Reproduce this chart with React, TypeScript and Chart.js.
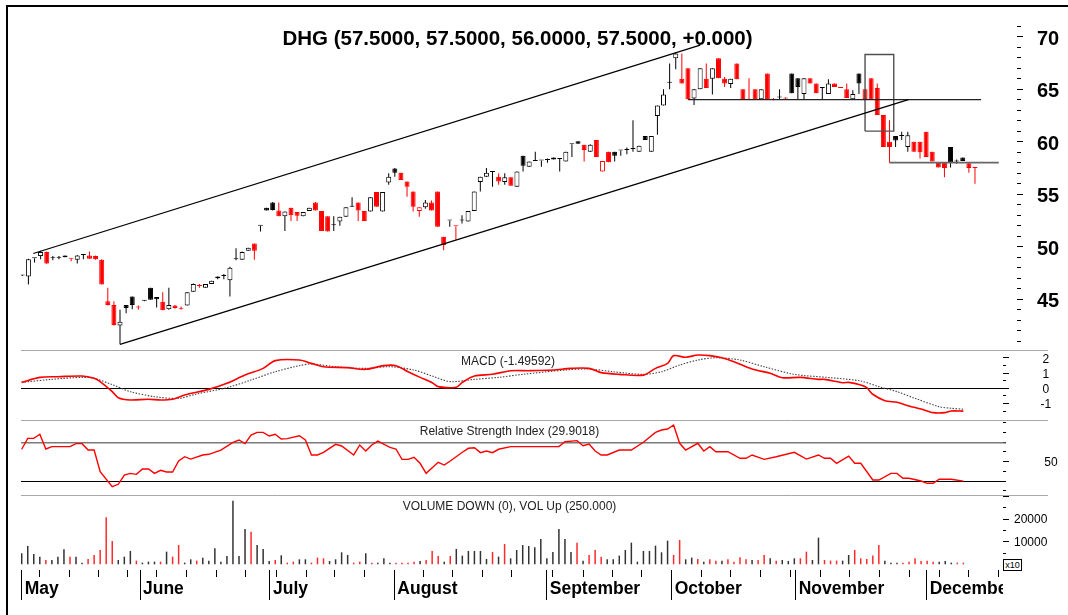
import React, { useEffect, useRef } from 'react';
import { Chart, registerables } from 'chart.js';

Chart.register(...registerables);

const FONT = "Arial, 'Liberation Sans', sans-serif";

// ---- Daily candles (trading-day index 0..156) ----
const OPEN = [47.25,47.15,48.9,49.1,49.5,48.9,48.95,49.15,48.85,48.75,49.2,49.15,49.1,48.75,44.8,44.45,42.5,44.45,45.25,44.2,44.85,46.1,45.2,44.75,44.05,44.4,44.15,44.4,45.7,46.25,46.1,46.45,47.15,47.2,46.8,48.8,48.75,49.6,50.3,52.0,53.7,54.2,53.45,52.9,53.7,53.3,52.9,53.4,54.2,53.4,52.9,52.05,52.4,52.85,53.8,54.2,53.4,53.35,55.2,53.35,56.1,57.45,57.05,56.2,55.25,53.4,53.75,54.2,55.25,50.95,52.5,51.95,52.5,52.4,53.4,56.15,56.65,57.1,56.65,56.15,56.6,55.7,58.65,57.6,58.15,58.2,58.25,58.5,58.35,58.1,59.75,60.05,59.7,59.05,60.15,57.15,59.05,59.05,59.15,59.2,59.3,59.05,60.55,59.05,62.45,63.45,65.6,67.95,66.0,67.0,64.1,65.0,66.0,66.0,67.95,66.0,65.5,67.45,65.0,64.0,65.0,64.05,66.5,64.0,64.2,64.1,66.5,66.05,64.55,66.05,65.55,65.1,64.55,65.55,65.1,65.0,64.05,66.5,65.0,66.05,65.1,62.55,60.0,60.55,60.55,59.5,60.0,60.0,60.95,59.05,58.0,58.0,59.5,58.1,58.5,57.95,57.5];
const HIGH = [47.3,48.85,48.9,49.6,49.55,49.1,49.1,49.15,48.9,49.2,49.2,49.55,49.15,48.8,46.1,44.8,44.0,44.45,45.25,44.4,44.9,46.1,45.2,45.65,46.1,44.45,44.3,45.65,46.5,46.45,46.45,46.75,47.15,47.4,48.1,49.85,49.55,49.9,50.3,52.0,53.7,54.25,54.2,53.35,53.7,53.3,53.3,53.7,54.25,53.4,52.9,52.9,52.85,53.75,54.7,54.2,53.4,54.7,55.2,55.2,57.0,57.5,57.05,56.2,55.25,53.75,54.45,54.4,55.25,50.95,52.5,51.95,53.0,53.4,55.25,56.65,57.5,57.1,57.0,57.0,56.6,57.15,58.65,58.1,59.05,58.2,58.4,58.5,58.35,59.05,59.75,60.05,59.7,59.75,60.15,58.15,59.05,59.05,59.15,59.45,62.05,59.6,60.55,60.55,63.45,65.0,67.45,68.5,68.4,67.0,65.0,67.0,67.45,67.0,67.95,66.15,66.0,67.45,65.0,66.05,65.0,65.0,66.5,64.15,65.0,64.2,66.5,66.05,66.05,66.05,65.55,65.1,65.95,65.55,65.1,65.55,64.9,66.5,65.0,66.05,65.55,62.55,62.05,60.55,60.95,60.95,60.0,60.0,60.95,59.05,58.0,58.0,59.5,58.3,58.5,57.95,57.5];
const LOW = [47.2,46.4,48.5,48.8,48.35,48.7,48.8,49.0,48.6,48.4,48.8,48.85,48.75,46.4,44.4,42.5,40.7,43.65,44.05,44.0,44.8,44.95,44.2,43.95,44.0,44.1,44.0,44.4,45.7,46.1,46.1,46.45,46.9,46.9,45.25,48.7,48.75,49.6,48.75,51.45,53.45,53.45,52.9,51.5,52.45,52.45,52.9,53.4,53.45,51.5,51.45,51.5,52.0,52.85,53.8,52.45,52.45,53.35,53.8,53.35,55.9,56.65,56.35,54.75,53.35,52.85,53.6,53.45,51.9,49.65,51.9,50.65,52.2,52.4,53.4,55.25,56.65,55.7,55.9,55.9,55.8,55.7,57.15,57.6,58.15,57.6,58.0,58.3,57.15,58.1,58.55,59.8,58.1,59.05,58.55,57.15,58.05,58.1,58.65,58.8,59.05,59.05,60.15,59.05,60.65,63.45,65.0,66.9,65.55,64.05,63.5,65.0,65.1,64.5,66.05,65.2,65.1,65.95,64.05,64.0,64.0,64.05,64.05,63.95,64.0,64.0,64.6,64.05,64.05,65.55,64.6,64.05,64.55,65.2,65.1,64.15,64.05,64.55,64.05,64.0,62.55,59.5,58.0,59.5,60.15,59.05,59.05,58.4,58.55,58.1,57.55,56.6,57.55,57.9,58.15,57.05,56.0];
const CLOSE = [47.25,48.8,48.9,49.5,48.4,48.9,48.95,49.0,48.85,49.15,49.2,48.85,48.8,46.4,44.45,42.55,42.85,44.15,44.45,44.2,44.85,44.95,45.0,43.95,44.45,44.15,44.1,45.65,46.45,46.25,46.45,46.75,47.0,47.2,48.0,48.8,49.5,49.9,49.6,52.0,53.45,53.5,52.9,53.35,53.0,52.95,53.3,53.7,53.45,51.5,51.45,52.05,52.85,53.75,53.8,53.45,52.45,54.7,53.8,55.2,56.65,57.05,56.35,55.7,53.8,53.75,54.2,53.45,51.9,50.15,52.5,51.95,52.5,53.4,55.25,56.65,57.05,57.1,56.2,56.6,55.8,57.15,57.7,58.1,58.15,58.2,58.25,58.3,58.35,59.05,59.75,59.8,59.2,59.7,58.55,58.15,58.05,58.65,59.15,59.2,59.3,59.6,60.15,60.55,63.45,64.5,65.6,68.4,65.55,64.05,65.0,67.0,65.1,67.0,66.05,65.55,66.0,65.95,64.05,64.0,64.0,65.0,64.05,64.0,64.2,64.1,64.6,65.2,66.05,65.55,64.6,65.1,65.55,65.2,65.1,64.15,64.55,65.55,64.05,64.0,62.55,59.5,59.5,60.1,60.55,60.6,59.05,59.0,58.55,58.1,57.55,57.5,58.0,58.1,58.15,57.5,57.5];
const VOLUME = [4870,8110,4570,3390,1920,1920,3390,6640,3390,3390,740,2360,4130,6340,20800,10330,1920,3390,5900,1620,740,1180,1180,1180,5600,3390,8550,740,2210,1620,2950,1620,7080,1180,3690,28170,3690,15600,14450,8550,6790,1475,1920,3980,740,1180,2210,2210,740,2950,2650,1475,2210,5310,4130,740,1180,4870,740,740,2650,740,740,740,740,1180,1475,1920,5900,3690,1180,3690,6790,3840,5900,5900,5900,2360,5460,3390,9000,2650,6340,8550,8110,7520,11210,2650,5460,15640,11210,5460,9590,1620,4130,6340,3390,2210,2210,3840,6340,9590,1180,5900,5900,8260,5310,10470,4130,10770,2210,2950,2360,1180,2210,1620,1620,2210,1180,3100,2210,1920,1920,4130,2650,1620,1920,1475,2650,2650,5600,1920,11800,1920,1620,1620,1620,4130,6340,2650,2360,3840,8550,1620,740,740,740,1180,2650,1475,1620,1180,1180,1475,740,740,740];

// ---- Indicators (read at these trading days) ----
const MACD_DAYS = [0,3,6,10,12,13,15,16,18,21,23,25,27,31,34,37,40,42,46,48,50,54,57,60,62,64,66,68,69,72,73,75,78,81,84,88,91,94,96,99,103,105,107,108,110,112,114,116,118,121,124,126,129,132,133,136,137,139,140,141,143,145,147,149,151,153,154,156];
const MACD_VALUES = [0.39,0.72,0.76,0.81,0.66,0.44,-0.22,-0.62,-0.77,-0.72,-0.77,-0.72,-0.44,-0.07,0.33,0.87,1.31,1.82,1.86,1.64,1.42,1.36,1.25,1.49,1.49,1.09,0.72,0.37,0.11,0.07,0.39,0.81,0.92,1.16,1.16,1.2,1.31,1.31,1.03,0.92,0.87,1.31,1.64,2.15,2.04,2.19,2.15,2.01,1.75,1.27,0.99,0.70,0.72,0.59,0.59,0.37,0.39,0.22,0.04,-0.39,-0.81,-0.92,-1.16,-1.36,-1.6,-1.6,-1.49,-1.5];
const SIGNAL_DAYS = [0,5,10,12,15,18,22,26,29,34,38,42,46,48,52,57,61,65,68,71,75,79,83,90,94,98,103,106,109,112,115,119,123,128,134,139,142,145,148,152,154,156];
const SIGNAL_VALUES = [0.39,0.59,0.72,0.66,0.24,-0.22,-0.55,-0.66,-0.37,0.04,0.55,1.09,1.49,1.60,1.42,1.31,1.42,1.2,0.81,0.44,0.59,0.72,0.92,1.2,1.27,1.09,0.92,1.09,1.53,1.86,2.01,1.86,1.42,0.92,0.70,0.48,0.11,-0.22,-0.66,-1.21,-1.31,-1.38];
const RSI_DAYS = [0,1,2,3,4,5,8,9,10,11,12,13,15,16,17,18,19,20,21,22,23,24,25,26,27,28,30,31,33,35,36,37,38,39,40,41,42,43,44,46,47,48,49,50,52,53,55,56,57,58,59,61,62,63,64,65,66,67,69,70,71,73,74,75,76,77,78,79,81,84,89,90,92,93,94,95,96,97,99,101,103,105,106,107,108,109,110,112,113,114,115,117,119,120,121,123,125,128,130,132,133,134,135,137,138,139,141,142,144,145,146,147,149,150,151,152,154,156];
const RSI_VALUES = [62.8,74.1,74.1,78.3,63.1,65.5,65.5,68.6,68.6,62.0,62.0,39.6,24.1,26.6,36.2,37.9,36.9,42.4,42.4,37.9,41.1,39.3,39.3,50.7,55.1,52.7,56.9,57.6,62.0,70.0,72.4,68.6,77.5,80.3,80.3,76.5,78.3,73.4,73.8,76.8,72.4,56.9,56.9,59.7,67.9,66.2,56.9,67.2,61.0,67.2,71.3,64.8,63.1,52.4,52.4,54.5,48.3,37.9,49.3,46.5,50.7,59.7,63.8,64.4,59.3,61.0,59.3,62.8,65.5,65.5,65.5,70.6,71.7,66.5,68.2,61.0,56.9,56.9,62.0,62.0,70.0,80.3,82.7,83.7,87.9,69.0,62.0,69.0,61.0,65.5,60.3,60.3,53.5,53.5,56.9,52.4,55.1,59.7,52.7,56.9,53.5,53.5,48.3,55.8,48.3,48.3,31.0,31.0,37.9,37.9,32.8,32.8,30.0,27.6,27.6,31.8,31.8,29.9];
const MACD_LAST = '-1.49592';
const RSI_LAST = '29.9018';

// ---- Drawn studies (day, price) ----
const CHANNEL_UPPER_DAYS = [1.8, 111.0];
const CHANNEL_UPPER_PRICES = [49.35, 69.2];
const CHANNEL_LOWER_DAYS = [16, 145.1];
const CHANNEL_LOWER_PRICES = [40.7, 64.0];
const RESIST_DAYS = [109.0, 157.0];
const RESIST_PRICE = 64.0;
const SUPPORT_DAYS = [142.0, 159.9];
const SUPPORT_PRICE = 58.0;
const BOX_DAYS = [138.0, 142.7];
const BOX_PRICES = [61.0, 68.3];

// ---- Axis ticks ----
const MONTH_LABELS = ['May','June','July','August','September','October','November','December'];
const MONTH_TICKS = [0, 19.6, 41.13, 61.73, 86.98, 107.69, 128.23, 149.93];
const WEEK_TICKS = [3.03,7.84,12.69,17.56,22.37,27.34,32.31,37.11,42.25,47.1,51.9,56.76,66.53,71.41,76.31,81.18,87.97,93.04,97.85,102.72,112.54,117.46,122.32,127.4,132.37,137.22,142.08,147.05,152.02,156.83,161.8];
const PRICE_TICKS = [41,42,43,44,45,46,47,48,49,50,51,52,53,54,55,56,57,58,59,60,61,62,63,64,65,66,67,68,69,70,71];
const MACD_TICKS = [-1.5,-1,-0.5,0,0.5,1,1.5,2,2.5];
const RSI_TICKS = [20,30,40,50,60,70,80,90];
const VOL_TICKS = [5000,10000,15000,20000,25000,30000];

const last = CLOSE.length - 1;
const chg = CLOSE[last] - CLOSE[last - 1];
const TITLE = `DHG (${OPEN[last].toFixed(4)}, ${HIGH[last].toFixed(4)}, ${LOW[last].toFixed(4)}, ${CLOSE[last].toFixed(4)}, ${chg >= 0 ? '+' : ''}${chg.toFixed(3)})`;

const noScalePadding = (s: any) => {
  s.paddingTop = 0;
  s.paddingBottom = 0;
  s.paddingLeft = 0;
  s.paddingRight = 0;
};

function buildConfig(): any {
  const days = CLOSE.map((_, i) => i);
  const up = days.map((i) => i === 0 || CLOSE[i] > CLOSE[i - 1]);
  const color = up.map((u) => (u ? '#000000' : '#ff0000'));
  const fill = days.map((i) => (CLOSE[i] > OPEN[i] ? '#ffffff' : color[i]));
  const volColor = up.map((u) => (u ? '#333333' : '#ff2a2a'));

  const line = (xs: number[], ys: number[], c: string, w: number) => ({
    type: 'line',
    xAxisID: 'xp',
    yAxisID: 'yp',
    data: xs.map((x, i) => ({ x, y: ys[i] })),
    borderColor: c,
    borderWidth: w,
    pointRadius: 0,
    fill: false,
    tension: 0,
    order: 0,
  });

  const datasets: any[] = [
    line(CHANNEL_UPPER_DAYS, CHANNEL_UPPER_PRICES, '#000', 1.3),
    line(CHANNEL_LOWER_DAYS, CHANNEL_LOWER_PRICES, '#000', 1.3),
    line(RESIST_DAYS, RESIST_DAYS.map(() => RESIST_PRICE), '#222', 1.3),
    line(SUPPORT_DAYS, SUPPORT_DAYS.map(() => SUPPORT_PRICE), '#666', 1.7),
    line(
      [BOX_DAYS[0], BOX_DAYS[1], BOX_DAYS[1], BOX_DAYS[0], BOX_DAYS[0]],
      [BOX_PRICES[0], BOX_PRICES[0], BOX_PRICES[1], BOX_PRICES[1], BOX_PRICES[0]],
      '#505050', 1.4
    ),
    {
      type: 'bar',
      xAxisID: 'xp',
      yAxisID: 'yp',
      data: days.map((i) => ({ x: i, y: [OPEN[i], CLOSE[i]] })),
      backgroundColor: fill,
      borderColor: color,
      borderWidth: 1,
      borderSkipped: false,
      barThickness: 5,
      minBarLength: 1,
      grouped: false,
      inflateAmount: 0,
      order: 1,
    },
    {
      type: 'bar',
      xAxisID: 'xp',
      yAxisID: 'yp',
      data: days.map((i) => ({ x: i, y: [LOW[i], HIGH[i]] })),
      backgroundColor: color,
      borderWidth: 0,
      barThickness: 1,
      minBarLength: 1,
      grouped: false,
      inflateAmount: 0,
      order: 2,
    },
    {
      type: 'line',
      xAxisID: 'xl',
      yAxisID: 'ym',
      data: MACD_DAYS.map((d, i) => ({ x: d, y: MACD_VALUES[i] })),
      borderColor: '#ff0000',
      borderWidth: 1.6,
      pointRadius: 0,
      tension: 0.3,
      fill: false,
      order: 3,
    },
    {
      type: 'line',
      xAxisID: 'xl',
      yAxisID: 'ym',
      data: SIGNAL_DAYS.map((d, i) => ({ x: d, y: SIGNAL_VALUES[i] })),
      borderColor: '#444444',
      borderWidth: 1.1,
      borderDash: [1.5, 1.5],
      pointRadius: 0,
      tension: 0.3,
      fill: false,
      order: 4,
    },
    {
      type: 'line',
      xAxisID: 'xl',
      yAxisID: 'yr',
      data: RSI_DAYS.map((d, i) => ({ x: d, y: RSI_VALUES[i] })),
      borderColor: '#ff0000',
      borderWidth: 1.4,
      pointRadius: 0,
      tension: 0,
      fill: false,
      order: 3,
    },
    {
      type: 'bar',
      xAxisID: 'xl',
      yAxisID: 'yv',
      data: days.map((i) => ({ x: i, y: VOLUME[i] })),
      backgroundColor: volColor,
      borderWidth: 0,
      barThickness: 1.5,
      grouped: false,
      inflateAmount: 0,
      order: 3,
    },
  ];

  const smallFont = { family: FONT, size: 12 };
  const yCommon = (weight: number, min: number, max: number) => ({
    type: 'linear',
    position: 'right',
    stack: 'panels',
    stackWeight: weight,
    min,
    max,
    beginAtZero: false,
    border: { display: false },
    afterFit: (s: any) => {
      s.width = 65;
      noScalePadding(s);
    },
  });

  const panelPlugin = {
    id: 'panelDecor',
    afterDraw(chart: any) {
      const { ctx, chartArea, scales } = chart;
      ctx.save();
      ctx.strokeStyle = '#a8a8a8';
      ctx.lineWidth = 1;
      ['ym', 'yr', 'yv'].forEach((id) => {
        const y = Math.round(scales[id].top) + 0.5;
        ctx.beginPath();
        ctx.moveTo(chartArea.left, y);
        ctx.lineTo(chartArea.right + 45, y);
        ctx.stroke();
      });
      const xl = scales.xl;
      ctx.fillStyle = '#ffffff';
      ctx.fillRect(chartArea.right, xl.top + 7, 60, xl.bottom - xl.top);
      ctx.restore();
    },
  };

  return {
    type: 'bar',
    data: { datasets },
    plugins: [panelPlugin],
    options: {
      responsive: false,
      animation: false,
      events: [],
      layout: { autoPadding: false, padding: { left: 21, top: 6, right: 0, bottom: 0 } },
      plugins: { legend: { display: false }, tooltip: { enabled: false }, title: { display: false } },
      scales: {
        xp: {
          type: 'linear', display: false, min: -0.213, max: 160.59, offset: false,
          grid: { offset: false },
          afterFit: noScalePadding,
        },
        xl: {
          type: 'linear', position: 'bottom', min: -0.116, max: 162.57, offset: false,
          border: { display: false },
          grid: {
            display: true, offset: false, drawOnChartArea: false, drawTicks: true,
            tickLength: 30, tickColor: '#000', tickWidth: 1,
            tickBorderDash: (ctx: any) => (ctx.tick && MONTH_TICKS.includes(ctx.tick.value) ? [] : [7, 100]),
          },
          ticks: {
            autoSkip: false, maxRotation: 0, minRotation: 0, align: 'start',
            labelOffset: 3, padding: -21.5, color: '#000',
            font: { family: FONT, size: 17.5, weight: 'bold' },
            callback: (v: number) => {
              const k = MONTH_TICKS.indexOf(v);
              return k >= 0 ? MONTH_LABELS[k] : '';
            },
          },
          afterBuildTicks: (s: any) => {
            s.ticks = [...MONTH_TICKS, ...WEEK_TICKS].sort((a, b) => a - b).map((v) => ({ value: v }));
          },
          afterFit: (s: any) => {
            s.height = 45;
            noScalePadding(s);
          },
        },
        yp: {
          ...yCommon(344, 40.16, 72.92),
          grid: {
            drawOnChartArea: false, tickLength: 20, tickColor: '#000', tickWidth: 1,
            tickBorderDash: (ctx: any) => (ctx.tick && ctx.tick.value % 5 === 0 ? [0, 14, 7, 100] : [0, 14, 4, 100]),
          },
          ticks: {
            autoSkip: false, padding: 14, labelOffset: 2.5, crossAlign: 'near', color: '#000',
            font: { family: FONT, size: 20, weight: 'bold' },
            callback: (v: number) => (v % 5 === 0 ? String(v) : ''),
          },
          afterBuildTicks: (s: any) => { s.ticks = PRICE_TICKS.map((v) => ({ value: v })); },
        },
        ym: {
          ...yCommon(69.5, -2.05, 2.52),
          grid: {
            drawOnChartArea: true,
            color: (ctx: any) => (ctx.tick && ctx.tick.value === 0 ? '#000' : 'rgba(0,0,0,0)'),
            lineWidth: 1, tickLength: 6, tickColor: '#000', tickWidth: 1,
            tickBorderDash: (ctx: any) => (ctx.tick && Number.isInteger(ctx.tick.value) ? [] : [3, 100]),
          },
          ticks: {
            autoSkip: false, crossAlign: 'center', padding: 31.6, labelOffset: 1.5, color: '#000',
            font: smallFont,
            callback: (v: number) => (Number.isInteger(v) ? String(v) : ''),
          },
          afterBuildTicks: (s: any) => { s.ticks = MACD_TICKS.map((v) => ({ value: v })); },
        },
        yr: {
          ...yCommon(75.5, 15.53, 93.57),
          grid: {
            drawOnChartArea: true,
            color: (ctx: any) => (!ctx.tick ? 'rgba(0,0,0,0)' : ctx.tick.value === 70 ? '#7a7a7a' : ctx.tick.value === 30 ? '#000' : 'rgba(0,0,0,0)'),
            lineWidth: (ctx: any) => (ctx.tick && ctx.tick.value === 70 ? 1.6 : 1),
            tickLength: 6, tickColor: '#000', tickWidth: 1,
            tickBorderDash: (ctx: any) => (ctx.tick && ctx.tick.value === 50 ? [] : [3, 100]),
          },
          ticks: {
            autoSkip: false, crossAlign: 'center', padding: 35.3, labelOffset: 1.5, color: '#000',
            font: smallFont,
            callback: (v: number) => (v === 50 ? '50' : ''),
          },
          afterBuildTicks: (s: any) => { s.ticks = RSI_TICKS.map((v) => ({ value: v })); },
        },
        yv: {
          ...yCommon(75, -2520, 30660),
          grid: {
            drawOnChartArea: false, tickLength: 6, tickColor: '#000', tickWidth: 1,
            tickBorderDash: (ctx: any) => (ctx.tick && ctx.tick.value % 10000 === 0 ? [] : [3, 100]),
          },
          ticks: {
            autoSkip: false, crossAlign: 'near', padding: 5, labelOffset: 1, color: '#000',
            font: smallFont,
            callback: (v: number) => (v === 10000 || v === 20000 ? String(v) : ''),
          },
          afterBuildTicks: (s: any) => { s.ticks = VOL_TICKS.map((v) => ({ value: v })); },
        },
      },
    },
  };
}

const caption = (center: number, top: number, size: number, bold: boolean): any => ({
  position: 'absolute',
  left: center,
  top,
  transform: 'translateX(-50%)',
  fontFamily: FONT,
  fontSize: size,
  fontWeight: bold ? 'bold' : 'normal',
  lineHeight: 1,
  whiteSpace: 'nowrap',
  color: bold ? '#000' : '#222',
  pointerEvents: 'none',
});

export default function App() {
  const canvasRef = useRef<HTMLCanvasElement | null>(null);

  useEffect(() => {
    const canvas = canvasRef.current;
    if (!canvas) return;
    const chart = new Chart(canvas, buildConfig());
    return () => chart.destroy();
  }, []);

  return (
    <div style={{ position: 'fixed', left: 0, top: 0, width: 1068, height: 615, background: '#fff', overflow: 'hidden' }}>
      <canvas ref={canvasRef} width={1068} height={615} style={{ position: 'absolute', left: 0, top: 0, width: 1068, height: 615 }} />
      <div style={{ position: 'absolute', left: 6, top: 5, width: 1080, height: 640, borderLeft: '2px solid #000', borderTop: '2px solid #000', pointerEvents: 'none' }} />
      <div style={caption(517.5, 27.6, 20.5, true)}>{TITLE}</div>
      <div style={caption(508, 355.4, 12, false)}>{`MACD (${MACD_LAST})`}</div>
      <div style={caption(509.5, 425.4, 12, false)}>{`Relative Strength Index (${RSI_LAST})`}</div>
      <div style={caption(509.5, 500.1, 12, false)}>VOLUME DOWN (0), VOL Up (250.000)</div>
      <div style={{ position: 'absolute', left: 1003, top: 559, width: 17, height: 10, border: '1px solid #000', fontFamily: FONT, fontSize: 9, lineHeight: '10px', textAlign: 'center', color: '#000', background: '#fff' }}>x10</div>
    </div>
  );
}
